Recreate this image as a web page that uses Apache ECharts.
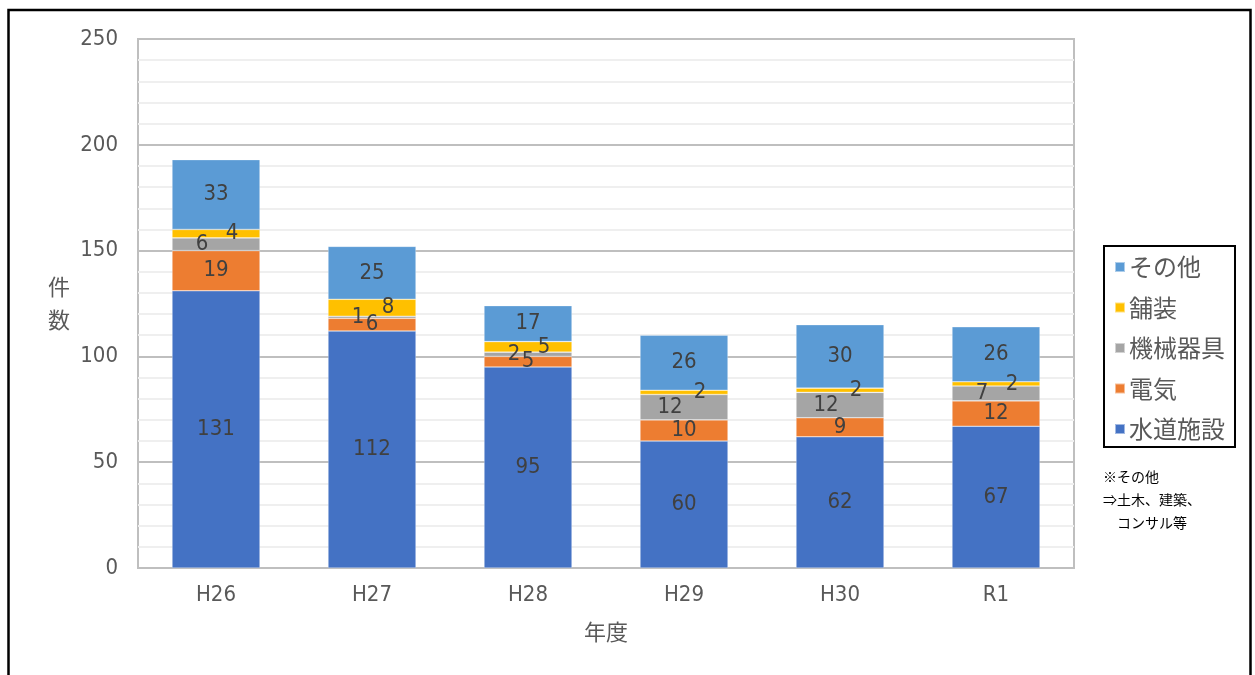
<!DOCTYPE html>
<html>
<head>
<meta charset="utf-8">
<script src="https://cdn.jsdelivr.net/npm/echarts@6/dist/echarts.min.js"></script>
<style>
  html, body { margin: 0; padding: 0; background: #fff; }
  #chart { width: 1255px; height: 675px; }
</style>
</head>
<body>
<div id="chart"></div>
<script>
// 年度別の件数（工種別）
const years = ['H26', 'H27', 'H28', 'H29', 'H30', 'R1'];
const suido = [131, 112, 95, 60, 62, 67];   // 水道施設
const denki = [19, 6, 5, 10, 9, 12];        // 電気
const kikai = [6, 1, 2, 12, 12, 7];         // 機械器具
const hoso = [4, 8, 5, 2, 2, 2];            // 舗装
const sonota = [33, 25, 17, 26, 30, 26];    // その他
const legendOrder = ['その他', '舗装', '機械器具', '電気', '水道施設'];
const noteLines = ['※その他', '⇒土木、建築、', '　コンサル等'];

const FONT = "'DejaVu Sans Condensed', 'Noto Sans CJK JP', sans-serif";
const JP = "'Noto Sans CJK JP', sans-serif";

function barSeries(name, data, color, offset) {
  return {
    name: name,
    type: 'bar',
    stack: 'total',
    data: data,
    barWidth: 88,
    itemStyle: { color: color, borderColor: 'rgba(255,255,255,0.5)', borderWidth: 0.6 },
    label: {
      show: true,
      position: 'inside',
      offset: offset,
      color: '#404040',
      fontSize: 22,
      fontFamily: FONT
    },
    emphasis: { disabled: true }
  };
}

const chart = echarts.init(document.getElementById('chart'), null, { renderer: 'canvas' });
chart.setOption({
  animation: false,
  backgroundColor: '#ffffff',
  grid: {
    left: 138, top: 39, right: 181, bottom: 107,
    show: true, borderColor: '#BFBFBF', borderWidth: 2, backgroundColor: 'transparent'
  },
  legend: {
    data: legendOrder,
    orient: 'vertical',
    left: 1104, top: 246,
    width: 130,
    padding: [7, 10, 4, 10],
    itemGap: 12.5,
    itemWidth: 10, itemHeight: 10,
    icon: 'rect',
    borderColor: '#000', borderWidth: 2,
    textStyle: { color: '#595959', fontSize: 24, fontFamily: JP, lineHeight: 28, padding: [0, 0, 0, -1] }
  },
  xAxis: {
    type: 'category',
    data: years,
    name: '年度',
    nameLocation: 'middle',
    nameGap: 53,
    nameTextStyle: { color: '#595959', fontSize: 22, fontFamily: JP },
    axisLine: { lineStyle: { color: '#BFBFBF', width: 2 } },
    axisTick: { show: false },
    axisLabel: { color: '#595959', fontSize: 22, fontFamily: FONT, margin: 16 }
  },
  yAxis: {
    type: 'value',
    min: 0, max: 250, interval: 50,
    name: '件\n数',
    nameLocation: 'middle',
    nameRotate: 0,
    nameGap: 68,
    nameTextStyle: { color: '#595959', fontSize: 22, fontFamily: JP, lineHeight: 33 },
    axisLine: { show: false },
    axisTick: { show: false },
    axisLabel: { color: '#595959', fontSize: 22, fontFamily: FONT, margin: 20 },
    splitLine: { lineStyle: { color: '#BFBFBF', width: 2 } },
    minorTick: { show: false, splitNumber: 5 },
    minorSplitLine: { show: true, lineStyle: { color: '#EFEFEF', width: 2 } }
  },
  series: [
    barSeries('水道施設', suido, '#4472C4', [0, 0]),
    barSeries('電気', denki, '#ED7D31', [0, 0]),
    barSeries('機械器具', kikai, '#A5A5A5', [-14, 0]),
    barSeries('舗装', hoso, '#FFC000', [16, 0]),
    barSeries('その他', sonota, '#5B9BD5', [0, 0])
  ],
  graphic: [
    {
      type: 'rect',
      shape: { x: 8.5, y: 10, width: 1242, height: 680 },
      style: { fill: 'none', stroke: '#000', lineWidth: 2.5 },
      silent: true
    },
    {
      type: 'group',
      left: 1103, top: 470,
      children: noteLines.map((t, i) => ({
        type: 'text',
        x: 0, y: i * 23,
        style: { text: t, fill: '#000', fontSize: 14, fontFamily: JP }
      }))
    }
  ]
});
</script>
</body>
</html>
